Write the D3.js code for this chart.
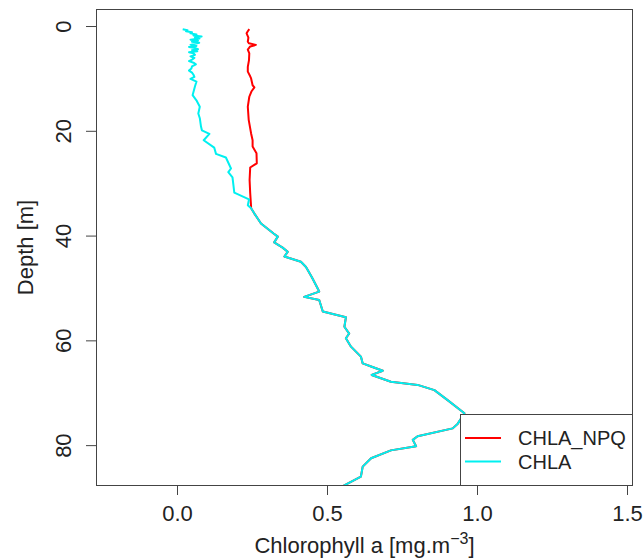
<!DOCTYPE html>
<html><head><meta charset="utf-8">
<script src="https://cdn.jsdelivr.net/npm/d3@7"></script>
<style>body{margin:0;background:#fff}svg{display:block}text{font-family:"Liberation Sans",Arial,Helvetica,sans-serif;fill:#222}</style>
</head><body>
<script>
// ---- data ----
const chlaDepth = [0.6,0.8,1.0,1.2,1.4,1.6,1.8,2.0,2.2,2.4,2.6,2.8,3.0,3.2,3.4,3.6,3.8,4.0,4.2,4.4,4.6,4.8,5.0,5.2,5.5,5.8,6.1,6.4,6.7,7.0,7.3,7.7,8.1,8.5,8.9,9.3,9.7,10.1,10.6,11.5,13.2,14.3,15.4,16.7,17.6,19.2,19.9,20.6,21.8,23.2,24.4,25.1,27.2,27.9,28.9,31.8,33.1,34.2,34.8,35.8,37.7,39.6,40.2,41.3,42.3,43.1,44.0,45.0,46.0,48.0,50.1,50.7,51.7,52.3,54.5,55.6,57.4,58.7,59.6,61.2,63.1,64.4,65.0,65.8,66.6,67.9,68.5,69.5,71.4,73.9,75.9,76.8,78.3,79.0,80.2,81.0,82.5,84.1,86.0,88.0,89.0];
const chlaValue = [0.019,0.035,0.03,0.05,0.045,0.065,0.055,0.082,0.06,0.075,0.045,0.07,0.05,0.074,0.06,0.045,0.065,0.04,0.06,0.07,0.05,0.068,0.04,0.055,0.06,0.045,0.058,0.05,0.04,0.055,0.063,0.05,0.048,0.04,0.05,0.055,0.058,0.045,0.065,0.06,0.052,0.066,0.076,0.071,0.076,0.08,0.083,0.108,0.089,0.124,0.13,0.163,0.18,0.171,0.185,0.191,0.24,0.236,0.247,0.258,0.28,0.322,0.336,0.324,0.352,0.369,0.358,0.413,0.43,0.45,0.469,0.474,0.424,0.474,0.486,0.563,0.558,0.574,0.563,0.58,0.613,0.619,0.647,0.686,0.649,0.713,0.802,0.858,0.902,0.958,0.936,0.919,0.802,0.786,0.797,0.713,0.647,0.619,0.613,0.547,0.52];
const npqDepth = [0.6,1.0,1.4,2.2,3.0,3.3,3.6,3.9,4.5,5.2,6.5,7.8,8.7,9.6,10.0,11.3,11.7,12.5,13.5,15.4,17.9,20.5,21.8,23.0,24.3,26.2,27.0,29.4,31.9,34.5];
const npqValue = [0.241,0.236,0.232,0.238,0.236,0.24,0.263,0.244,0.236,0.241,0.24,0.236,0.236,0.244,0.247,0.252,0.258,0.248,0.241,0.236,0.239,0.247,0.252,0.252,0.265,0.266,0.244,0.242,0.244,0.247];
const xTicks = [0, 0.5, 1.0, 1.5];
const yTicks = [0, 20, 40, 60, 80];
const seriesNames = ["CHLA_NPQ", "CHLA"];
const seriesColors = ["#ff0000", "#00f0f0"];

// ---- layout ----
const W = 643, H = 560;
const L = 96, R = 633, T = 9, B = 486;
const x = d3.scaleLinear().domain([-0.27, 1.52]).range([L, R]);
const y = d3.scaleLinear().domain([-3.25, 87.8]).range([T, B]);

const svg = d3.select("body").append("svg").attr("width", W).attr("height", H);
svg.append("defs").append("clipPath").attr("id","clip")
  .append("rect").attr("x",L).attr("y",T).attr("width",R-L).attr("height",B-T);

const chla = chlaDepth.map((d,i)=>({d, v: chlaValue[i]}));
const joinDepth = npqDepth[npqDepth.length-1];
const npq = npqDepth.map((d,i)=>({d, v: npqValue[i]})).concat(chla.filter(p=>p.d>joinDepth));

const line = d3.line().x(p=>x(p.v)).y(p=>y(p.d));
const g = svg.append("g").attr("clip-path","url(#clip)");
[npq, chla].forEach((s,i)=>{
  g.append("path").attr("d", line(s)).attr("fill","none")
   .attr("stroke", seriesColors[i]).attr("stroke-width", 2).attr("stroke-linejoin","round");
});

// box
svg.append("rect").attr("x",L+0.5).attr("y",T+0.5).attr("width",R-L-1).attr("height",B-T-1)
  .attr("fill","none").attr("stroke","#444").attr("stroke-width",1);

// x axis
const xa = svg.append("g").attr("transform",`translate(0,${B})`)
  .call(d3.axisBottom(x).tickValues(xTicks).tickSize(9).tickPadding(10).tickFormat(d3.format(".1f")));
xa.select(".domain").remove();
xa.selectAll("line").attr("stroke","#444");
xa.selectAll("text").attr("font-size",22).attr("fill","#222").attr("font-family",null).attr("dy","0.71em");

// y axis
const ya = svg.append("g").attr("transform",`translate(${L},0)`)
  .call(d3.axisLeft(y).tickValues(yTicks).tickSize(10).tickFormat(d3.format("d")));
ya.select(".domain").remove();
ya.selectAll("line").attr("stroke","#444");
ya.selectAll("text").remove();
ya.selectAll(".tick").append("text")
  .attr("transform","translate(-25,0) rotate(-90)")
  .attr("text-anchor","middle").attr("font-size",22).attr("fill","#222")
  .text(d=>d3.format("d")(d));

// axis titles
const xt = svg.append("text").attr("x",(L+R)/2).attr("y",553).attr("text-anchor","middle").attr("font-size",22);
xt.append("tspan").text("Chlorophyll a [mg.m");
xt.append("tspan").attr("dy",-9).attr("font-size",16).text("\u22123");
xt.append("tspan").attr("dy",9).text("]");

svg.append("text").attr("transform",`translate(33,${(T+B)/2}) rotate(-90)`)
  .attr("text-anchor","middle").attr("font-size",22).text("Depth [m]");

// legend
const lg = svg.append("g");
lg.append("rect").attr("x",460.5).attr("y",414.5).attr("width",R-460-1).attr("height",B-414-1)
  .attr("fill","#fff").attr("stroke","#444");
seriesNames.forEach((n,i)=>{
  const yy = 438 + i*23.5;
  lg.append("line").attr("x1",465).attr("x2",501).attr("y1",yy).attr("y2",yy)
    .attr("stroke",seriesColors[i]).attr("stroke-width",2);
  lg.append("text").attr("x",518).attr("y",yy+7).attr("font-size",20).text(n);
});
</script>
</body></html>
